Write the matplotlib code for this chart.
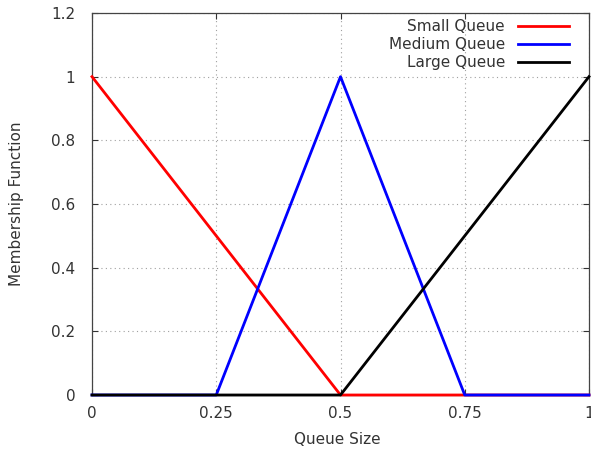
import matplotlib
matplotlib.use("Agg")
import matplotlib.pyplot as plt

# Membership function breakpoints for the queue-size fuzzy sets
small_x = [0.0, 0.5, 1.0]
small_y = [1.0, 0.0, 0.0]
medium_x = [0.0, 0.25, 0.5, 0.75, 1.0]
medium_y = [0.0, 0.0, 1.0, 0.0, 0.0]
large_x = [0.0, 0.5, 1.0]
large_y = [0.0, 0.0, 1.0]

x_ticks = [0, 0.25, 0.5, 0.75, 1]
x_tick_labels = ["0", "0.25", "0.5", "0.75", "1"]
y_ticks = [0, 0.2, 0.4, 0.6, 0.8, 1.0, 1.2]
y_tick_labels = ["0", "0.2", "0.4", "0.6", "0.8", "1", "1.2"]

plt.rcParams["font.family"] = ["DejaVu Sans"]
plt.rcParams["font.size"] = 11

W, H = 591, 450
fig = plt.figure(figsize=(W / 100, H / 100), dpi=100)
ax = fig.add_axes([92 / W, 1 - 395 / H, (589 - 92) / W, (395 - 13) / H])

ax.plot(small_x, small_y, color="#ff0000", lw=2, label="Small Queue", clip_on=False, zorder=3)
ax.plot(medium_x, medium_y, color="#0000ff", lw=2, label="Medium Queue", clip_on=False, zorder=3)
ax.plot(large_x, large_y, color="#000000", lw=2, label="Large Queue", clip_on=False, zorder=3)

ax.set_xlim(0, 1)
ax.set_ylim(0, 1.2)
ax.set_xticks(x_ticks)
ax.set_xticklabels(x_tick_labels)
ax.set_yticks(y_ticks)
ax.set_yticklabels(y_tick_labels)

ax.grid(True, color="#a0a0a0", linestyle=(0, (1, 3)), linewidth=0.8)
ax.tick_params(direction="in", top=True, right=True, length=4.5, width=0.8,
               color="#333333", labelcolor="#333333")
ax.tick_params(axis="x", pad=8)
ax.tick_params(axis="y", pad=12)
for s in ax.spines.values():
    s.set_color("#444444")
    s.set_linewidth(0.9)

fig.text(337 / W, 1 - 439 / H, "Queue Size", ha="center", va="center", color="#333333")
fig.text(17 / W, 1 - 204 / H, "Membership Function", ha="center", va="center",
         rotation=90, color="#333333")

leg = ax.legend(loc="upper right", bbox_to_anchor=((569 - 92) / 497, (395 - 19) / 382),
                frameon=False, markerfirst=False, borderpad=0, borderaxespad=0,
                handlelength=3.34, handletextpad=0.85, labelspacing=0.2)
for t in leg.get_texts():
    t.set_color("#333333")

fig.savefig("out.png", dpi=100)
